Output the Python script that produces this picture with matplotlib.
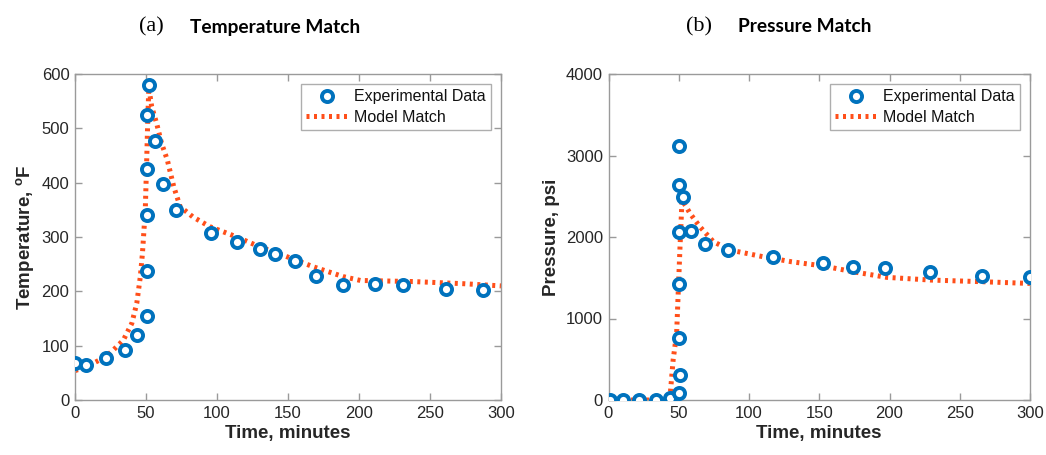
import matplotlib
matplotlib.use("Agg")
import matplotlib.pyplot as plt

# Temperature experiment
temp_time = [0, 8, 22, 35, 44, 51, 51, 51, 51, 51, 52, 56, 62, 71, 96, 114, 130, 141, 155, 170, 189, 211, 231, 261, 287]
temp_data = [69, 64, 78, 92, 120, 155, 238, 340, 426, 524, 580, 476, 398, 350, 308, 290, 277, 269, 256, 229, 212, 214, 211, 204, 202]
temp_model_time = [0, 8, 22, 27, 34, 40, 43.5, 46, 47.5, 49.5, 50.5, 51.3, 52, 54, 57.5, 61, 65, 69.5, 74, 83, 95, 114, 130, 145, 168, 189, 201, 238, 274, 300]
temp_model = [54, 61, 80, 92, 110, 141, 178, 227, 270, 350, 442, 521, 575, 540, 509, 472, 442, 393, 356, 337, 319, 300, 282, 268, 245, 227, 220, 218, 214, 210]

# Pressure experiment
pres_time = [1, 10, 22, 34, 44, 50, 51, 50, 50, 50, 50, 50, 53, 59, 69, 85, 117, 153, 174, 197, 229, 266, 300]
pres_data = [0, 0, 0, 0, 29, 90, 303, 757, 1420, 2065, 2642, 3120, 2490, 2074, 1910, 1840, 1758, 1677, 1628, 1616, 1574, 1525, 1505]
pres_model_time = [0, 10, 20, 30, 41.5, 44, 46, 48.5, 49.6, 50.9, 52.3, 55, 58, 65, 74.6, 86.5, 110, 130, 153, 174, 198, 229, 265, 300]
pres_model = [0, 0, 0, 0, 0, 82, 490, 818, 1310, 1880, 2450, 2380, 2290, 2127, 1943, 1840, 1758, 1697, 1644, 1574, 1505, 1472, 1452, 1430]

plt.rcParams['font.family'] = ['Liberation Sans', 'DejaVu Sans']
plt.rcParams['mathtext.fontset'] = 'custom'
plt.rcParams['mathtext.rm'] = 'Liberation Sans'
plt.rcParams['mathtext.bf'] = 'Liberation Sans:bold'

BLUE = '#0072BD'
ORANGE = '#FF4F1A'
SPINE = '#9a9a9a'
TEXT = '#262626'

fig = plt.figure(figsize=(10.46, 4.55), dpi=100)
ax1 = fig.add_axes([75/1046, 1-400/455, 426/1046, 326/455])
ax2 = fig.add_axes([608.5/1046, 1-400/455, 421.5/1046, 326/455])


def style(ax, ylim, yticks, ylabel):
    ax.set_xlim(0, 300)
    ax.set_ylim(*ylim)
    ax.set_xticks(range(0, 301, 50))
    ax.set_yticks(yticks)
    for s in ax.spines.values():
        s.set_color(SPINE)
        s.set_linewidth(1.0)
    ax.tick_params(direction='in', top=True, right=True, length=5, width=1.0,
                   color=SPINE, labelcolor=TEXT, labelsize=12, pad=4)
    ax.set_xlabel('Time, minutes', fontsize=13.5, fontweight='bold', color=TEXT, labelpad=3)
    ax.set_ylabel(ylabel, fontsize=13.5, fontweight='bold', color=TEXT, labelpad=4)


def draw(ax, t, d, mt, m):
    ax.plot(mt, m, linestyle=(0, (0.6, 0.9)), color=ORANGE, linewidth=3.6,
            label='Model Match', zorder=2)
    ax.plot(t, d, linestyle='none', marker='o', markersize=8.0, markerfacecolor='white',
            markeredgecolor=BLUE, markeredgewidth=2.8, label='Experimental Data', zorder=3)
    h, l = ax.get_legend_handles_labels()
    leg = ax.legend(h[::-1], l[::-1], loc='upper right', fontsize=11.5, frameon=True,
                    fancybox=False, edgecolor=SPINE, borderpad=0.35, labelspacing=0.35,
                    handlelength=2.6, handletextpad=0.4, borderaxespad=0.6)
    leg.get_frame().set_linewidth(1.0)
    for txt in leg.get_texts():
        txt.set_color('#111111')


draw(ax1, temp_time, temp_data, temp_model_time, temp_model)
style(ax1, (0, 600), range(0, 601, 100), r'Temperature, $\mathbf{^{o}}$F')

draw(ax2, pres_time, pres_data, pres_model_time, pres_model)
style(ax2, (0, 4000), range(0, 4001, 1000), 'Pressure, psi')

# Panel headings
fig.text(151/1046, 1-27/455, '(a)', family='Liberation Serif', fontsize=16, ha='center', va='center')
fig.text(190/1046, 1-27/455, 'Temperature Match', family='Lato', fontweight='bold', fontsize=13.8,
         ha='left', va='center')
fig.text(699/1046, 1-27/455, '(b)', family='Liberation Serif', fontsize=16, ha='center', va='center')
fig.text(738/1046, 1-27/455, 'Pressure Match', family='Lato', fontweight='bold', fontsize=13.8,
         ha='left', va='center')

fig.savefig('out.png', dpi=100)
